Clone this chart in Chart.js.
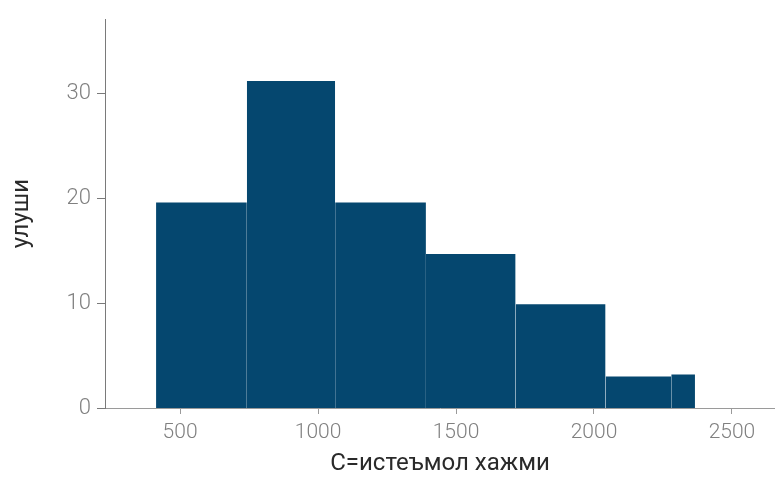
<!DOCTYPE html>
<html>
<head>
<meta charset="utf-8">
<script src="https://cdn.jsdelivr.net/npm/chart.js@4/dist/chart.umd.min.js"></script>
<style>
    html, body { margin: 0; padding: 0; background: #fff; }
    #wrap { width: 775px; height: 480px; }
</style>
</head>
<body>
<div id="wrap"><canvas id="histChart"></canvas></div>
<script>
// bin edges (x) and heights of each bin
const binEdges = [413, 742, 1062, 1391, 1716, 2042, 2280, 2366];
const binCounts = [19.6, 31.2, 19.6, 14.7, 9.9, 3.0, 3.2];
const xTickValues = [500, 1000, 1500, 2000, 2500];
const yTickValues = [0, 10, 20, 30];

const barColor = '#05476f';

// one filled step per bin, so the seams show like in the picture
let datasets = [];
for (let i = 0; i < binCounts.length; i++) {
    datasets.push({
        data: [
            { x: binEdges[i], y: binCounts[i] },
            { x: binEdges[i + 1], y: binCounts[i] }
        ],
        fill: 'origin',
        backgroundColor: barColor,
        borderColor: 'rgba(0,0,0,0)',
        borderWidth: 0,
        pointRadius: 0,
        tension: 0
    });
}

const config = {
    type: 'line',
    data: { datasets: datasets },
    options: {
        responsive: false,
        animation: false,
        layout: { padding: { top: 18, right: 0, left: 0, bottom: 0 } },
        plugins: {
            legend: { display: false },
            tooltip: { enabled: false }
        },
        scales: {
            x: {
                type: 'linear',
                min: 228,
                max: 2656,
                afterBuildTicks: function(scale) {
                    scale.ticks = xTickValues.map(v => ({ value: v }));
                },
                afterFit: function(scale) {
                    scale.height = 72;
                },
                border: { display: true, color: '#9a9a9a', width: 1 },
                grid: { drawOnChartArea: false, drawTicks: true, tickLength: 6, tickColor: '#9a9a9a' },
                ticks: {
                    color: '#808080',
                    padding: 6,
                    maxRotation: 0,
                    font: { family: 'Roboto', size: 21, weight: 300 },
                    callback: function(value) { return String(value); }
                },
                title: {
                    display: true,
                    text: 'С=истеъмол хажми',
                    color: '#2a2a2a',
                    padding: { top: 4, bottom: 2 },
                    font: { family: 'Roboto', size: 24 }
                }
            },
            y: {
                type: 'linear',
                min: 0,
                max: 37.1,
                afterBuildTicks: function(scale) {
                    scale.ticks = yTickValues.map(v => ({ value: v }));
                },
                afterFit: function(scale) {
                    scale.width = 105;
                },
                border: { display: true, color: '#7a7a7a', width: 1 },
                grid: { drawOnChartArea: false, drawTicks: true, tickLength: 8, tickColor: '#7a7a7a' },
                ticks: {
                    color: '#808080',
                    padding: 6,
                    font: { family: 'Roboto', size: 22, weight: 300 },
                    callback: function(value) { return String(value); }
                },
                title: {
                    display: true,
                    text: 'улуши',
                    color: '#2a2a2a',
                    padding: { top: 8, bottom: 0 },
                    font: { family: 'Roboto', size: 24 }
                }
            }
        }
    }
};

const canvas = document.getElementById('histChart');
canvas.width = 775;
canvas.height = 480;
const chart = new Chart(canvas, config);
</script>
</body>
</html>
